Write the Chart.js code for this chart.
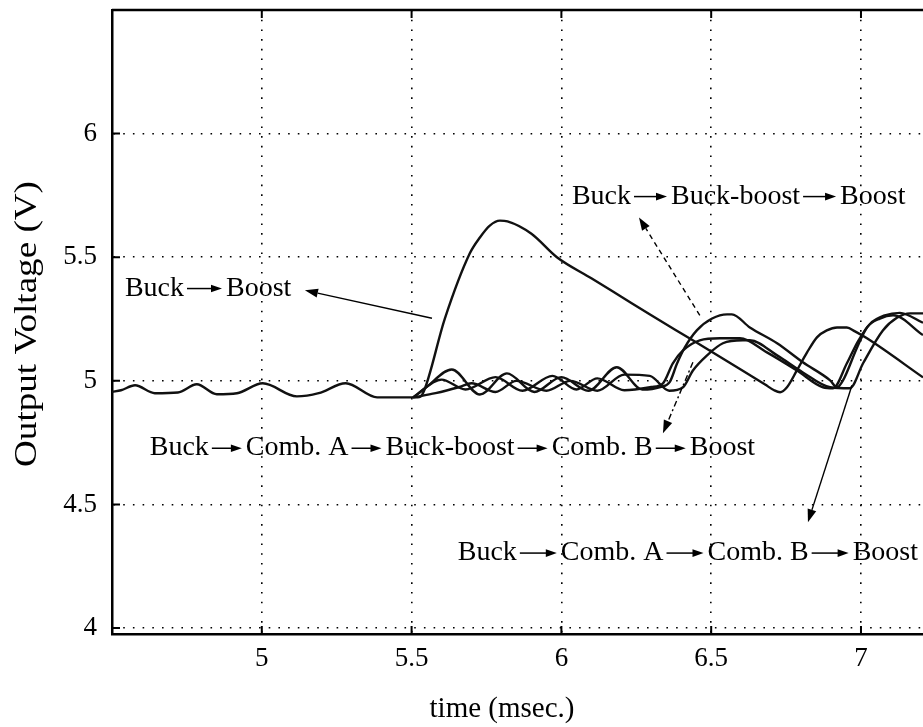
<!DOCTYPE html>
<html>
<head>
<meta charset="utf-8">
<title>Output voltage during mode transitions</title>
<script src="https://cdn.jsdelivr.net/npm/chart.js@4.4.1/dist/chart.umd.min.js"></script>
<style>
  html, body { margin: 0; padding: 0; background: #fff; overflow: hidden; }
  #wrap { width: 923px; height: 727px; }
</style>
</head>
<body>
<div id="wrap"><canvas id="vout" width="923" height="727"></canvas></div>
<script>
// --- axis ticks ---
const xTicks = [5, 5.5, 6, 6.5, 7];
const yTicks = [4, 4.5, 5, 5.5, 6];

// --- Buck -> Boost (also carries the steady-state ripple before the step) ---
const tBuckBoost = [4.50, 4.53, 4.577, 4.643, 4.72, 4.783, 4.85, 4.917, 5.003, 5.117,
                    5.19, 5.28, 5.385, 5.505, 5.52, 5.538, 5.611, 5.694, 5.728, 5.761,
                    5.795, 5.82, 5.90, 5.985, 6.10, 6.20, 6.30, 6.44, 6.60, 6.68,
                    6.71, 6.73, 6.753, 6.786, 6.82, 6.853, 6.886, 6.92, 6.953, 6.98,
                    7.02, 7.207];
const vBuckBoost = [4.955, 4.962, 4.982, 4.950, 4.953, 4.986, 4.946, 4.950, 4.990, 4.937,
                    4.950, 4.990, 4.933, 4.933, 4.933, 4.950, 5.252, 5.515, 5.580, 5.628,
                    5.648, 5.645, 5.595, 5.500, 5.415, 5.340, 5.265, 5.163, 5.045, 4.985,
                    4.962, 4.954, 4.974, 5.042, 5.115, 5.176, 5.204, 5.216, 5.216, 5.200,
                    5.172, 5.014];

// --- Buck -> Buck-boost -> Boost ---
const tBuckBbBoost = [5.505, 5.55, 5.634, 5.728, 5.818, 5.91, 6.00, 6.09, 6.185, 6.27,
                      6.33, 6.362, 6.386, 6.412, 6.452, 6.503, 6.553, 6.569, 6.629, 6.72,
                      6.806, 6.897, 6.92, 6.94, 6.987, 7.02, 7.063, 7.107, 7.207];
const vBuckBbBoost = [4.933, 4.975, 5.046, 4.945, 5.030, 4.955, 5.015, 4.960, 5.055, 4.965,
                      4.975, 4.996, 5.070, 5.135, 5.204, 5.252, 5.269, 5.269, 5.216, 5.152,
                      5.075, 5.002, 4.974, 5.002, 5.135, 5.216, 5.252, 5.265, 5.185];

// --- Buck -> Comb. A -> Buck-boost -> Comb. B -> Boost ---
const tCombBb = [5.505, 5.60, 5.68, 5.78, 5.87, 5.97, 6.05, 6.12, 6.21, 6.30,
                 6.339, 6.372, 6.406, 6.462, 6.529, 6.596, 6.686, 6.786, 6.873, 6.907,
                 6.953, 6.99, 7.03, 7.08, 7.13, 7.207];
const vCombBb = [4.933, 5.005, 4.965, 5.015, 4.960, 5.020, 4.965, 5.010, 4.962, 4.975,
                 4.990, 5.071, 5.123, 5.164, 5.172, 5.172, 5.115, 5.042, 4.974, 4.970,
                 5.071, 5.160, 5.230, 5.265, 5.275, 5.235];

// --- Buck -> Comb. A -> Comb. B -> Boost ---
const tCombOnly = [5.505, 5.58, 5.66, 5.70, 5.78, 5.85, 5.95, 6.03, 6.12, 6.21,
                   6.295, 6.36, 6.406, 6.439, 6.486, 6.539, 6.606, 6.629, 6.72, 6.806,
                   6.897, 6.963, 7.007, 7.073, 7.12, 7.164, 7.207];
const vCombOnly = [4.933, 4.950, 4.975, 4.990, 4.955, 5.000, 4.960, 5.000, 4.960, 5.025,
                   5.020, 4.960, 4.974, 5.042, 5.103, 5.152, 5.164, 5.164, 5.103, 5.034,
                   4.974, 4.970, 5.071, 5.204, 5.255, 5.273, 5.273];

// --- callout texts (mode sequences) ---
const labelBuckBoost = ['Buck', 'Boost'];
const labelBuckBbBoost = ['Buck', 'Buck-boost', 'Boost'];
const labelCombBb = ['Buck', 'Comb. A', 'Buck-boost', 'Comb. B', 'Boost'];
const labelCombOnly = ['Buck', 'Comb. A', 'Comb. B', 'Boost'];

const SERIF = '"Liberation Serif", "Times New Roman", serif';

function toPoints(ts, vs) {
    return ts.map((t, i) => ({ x: t, y: vs[i] }));
}

function trace(ts, vs) {
    return {
        data: toPoints(ts, vs),
        borderColor: '#111',
        borderWidth: 2.4,
        pointRadius: 0,
        fill: false,
        cubicInterpolationMode: 'monotone'
    };
}

// callouts: text anchor, arrow from the curve back to the text (data units)
const callouts = [
    { parts: labelBuckBoost,   at: [4.543, 5.345], gap: 42, from: [5.568, 5.253], to: [5.144, 5.366], dash: [] },
    { parts: labelBuckBbBoost, at: [6.035, 5.717], gap: 40, from: [6.462, 5.265], to: [6.259, 5.661], dash: [5, 4] },
    { parts: labelCombBb,      at: [4.626, 4.699], gap: 37, from: [6.439, 5.075], to: [6.339, 4.788], dash: [6, 3, 2, 3] },
    { parts: labelCombOnly,    at: [5.654, 4.275], gap: 44, from: [6.970, 4.982], to: [6.823, 4.428], dash: [] }
];

function arrowHead(ctx, x0, y0, x1, y1, len, half) {
    const a = Math.atan2(y1 - y0, x1 - x0);
    const bx = x1 - len * Math.cos(a), by = y1 - len * Math.sin(a);
    ctx.beginPath();
    ctx.moveTo(x1, y1);
    ctx.lineTo(bx + half * Math.sin(a), by - half * Math.cos(a));
    ctx.lineTo(bx - half * Math.sin(a), by + half * Math.cos(a));
    ctx.closePath();
    ctx.fill();
    return [bx, by];
}

// frame, inward ticks, axis titles and callouts
const overlay = {
    id: 'overlay',
    afterDraw(chart) {
        const { ctx, chartArea: a, scales: { x, y } } = chart;
        ctx.save();
        ctx.strokeStyle = '#000';
        ctx.fillStyle = '#000';
        ctx.setLineDash([]);

        ctx.lineWidth = 2.5;
        ctx.beginPath();
        ctx.moveTo(a.left, a.top);
        ctx.lineTo(a.right, a.top);
        ctx.stroke();

        ctx.lineWidth = 2;
        ctx.beginPath();
        xTicks.forEach(v => {
            const px = x.getPixelForValue(v);
            ctx.moveTo(px, a.bottom); ctx.lineTo(px, a.bottom - 8);
            ctx.moveTo(px, a.top); ctx.lineTo(px, a.top + 8);
        });
        yTicks.forEach(v => {
            const py = y.getPixelForValue(v);
            ctx.moveTo(a.left, py); ctx.lineTo(a.left + 8, py);
        });
        ctx.stroke();

        // axis titles
        ctx.font = '29px ' + SERIF;
        ctx.textAlign = 'center';
        ctx.textBaseline = 'alphabetic';
        ctx.fillText('time (msec.)', 502, 717);

        ctx.save();
        ctx.translate(36, (a.top + a.bottom) / 2 + 2);
        ctx.rotate(-Math.PI / 2);
        ctx.scale(1.16, 1);
        ctx.font = '32px ' + SERIF;
        ctx.fillText('Output Voltage (V)', 0, 0);
        ctx.restore();

        // callouts
        ctx.font = '28px ' + SERIF;
        ctx.textAlign = 'left';
        callouts.forEach(c => {
            let cx = x.getPixelForValue(c.at[0]);
            const base = y.getPixelForValue(c.at[1]);
            c.parts.forEach((p, i) => {
                ctx.fillText(p, cx, base);
                cx += ctx.measureText(p).width;
                if (i < c.parts.length - 1) {
                    const x0 = cx + 3, x1 = cx + c.gap - 4, ay = base - 7;
                    ctx.lineWidth = 1.5;
                    const [bx] = arrowHead(ctx, x0, ay, x1, ay, 11, 3.8);
                    ctx.beginPath();
                    ctx.moveTo(x0, ay); ctx.lineTo(bx + 1, ay);
                    ctx.stroke();
                    cx += c.gap;
                }
            });

            const fx = x.getPixelForValue(c.from[0]), fy = y.getPixelForValue(c.from[1]);
            const tx = x.getPixelForValue(c.to[0]), ty = y.getPixelForValue(c.to[1]);
            const [hx, hy] = arrowHead(ctx, fx, fy, tx, ty, 13, 4.5);
            ctx.lineWidth = 1.4;
            ctx.setLineDash(c.dash);
            ctx.beginPath();
            ctx.moveTo(fx, fy); ctx.lineTo(hx, hy);
            ctx.stroke();
            ctx.setLineDash([]);
        });
        ctx.restore();
    }
};

const tickFont = { family: SERIF, size: 27 };

new Chart(document.getElementById('vout'), {
    type: 'line',
    data: {
        datasets: [
            trace(tBuckBoost, vBuckBoost),
            trace(tBuckBbBoost, vBuckBbBoost),
            trace(tCombBb, vCombBb),
            trace(tCombOnly, vCombOnly)
        ]
    },
    options: {
        responsive: false,
        animation: false,
        layout: { padding: { top: 10, left: 0, right: 0, bottom: 0 } },
        plugins: { legend: { display: false }, tooltip: { enabled: false } },
        scales: {
            x: {
                type: 'linear',
                min: 4.5,
                max: 7.207,
                afterBuildTicks: s => { s.ticks = xTicks.map(v => ({ value: v })); },
                afterFit: s => { s.height = 93; s.paddingLeft = 0; s.paddingRight = 0; },
                ticks: { font: tickFont, color: '#000', padding: 9, maxRotation: 0, autoSkip: false,
                         callback: v => String(v) },
                grid: { color: '#000', lineWidth: 1.6, drawTicks: false },
                border: { display: true, color: '#000', width: 2.5, dash: [1.6, 8.1] }
            },
            y: {
                min: 3.976,
                max: 6.5,
                afterBuildTicks: s => { s.ticks = yTicks.map(v => ({ value: v })); },
                afterFit: s => { s.width = 112; s.paddingTop = 0; s.paddingBottom = 0; },
                ticks: { font: tickFont, color: '#000', padding: 15, autoSkip: false,
                         callback: v => String(v) },
                grid: { color: '#000', lineWidth: 1.6, drawTicks: false },
                border: { display: true, color: '#000', width: 2.5, dash: [1.6, 8.1] }
            }
        }
    },
    plugins: [overlay]
});
</script>
</body>
</html>
